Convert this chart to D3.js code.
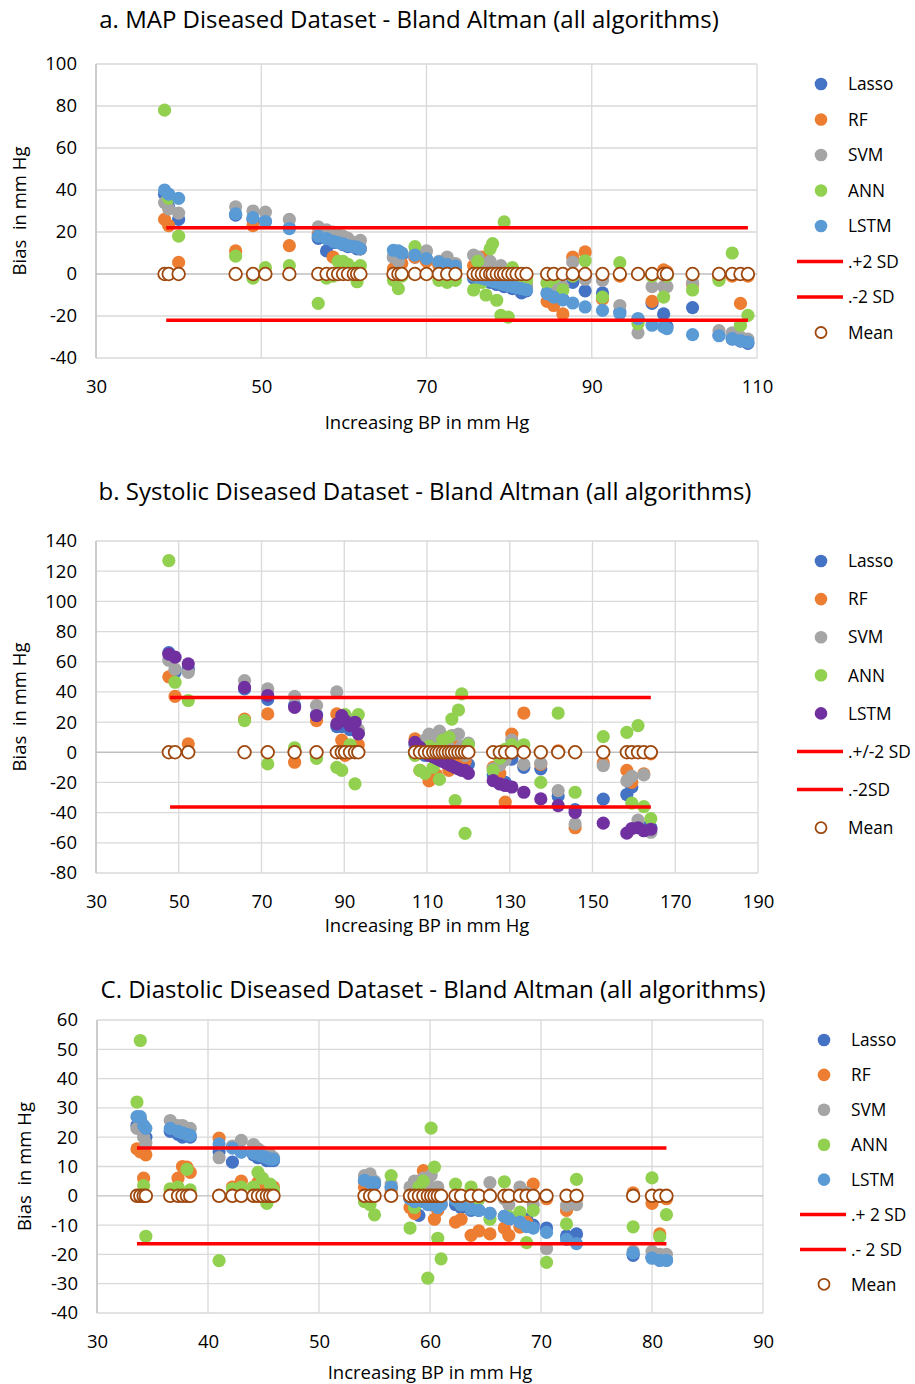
<!DOCTYPE html>
<html>
<head>
<meta charset="utf-8">
<script src="https://cdn.jsdelivr.net/npm/d3@7"></script>
<style>
  body { margin: 0; background: #fff; }
  text { font-family: "Open Sans", sans-serif; fill: #000; white-space: pre; }
</style>
</head>
<body>
<div id="chart"></div>
<script>
'use strict';

// ---- a. MAP ----
var xA = [38.3, 38.8, 40.0, 46.9, 49.0, 50.5, 53.4, 56.9, 57.9, 58.7, 59.3, 59.9, 60.5, 61.2, 61.6, 62.0,
  66.0, 66.6, 67.0, 68.6, 70.0, 71.5, 72.5, 73.5,
  75.7, 76.2, 76.7, 77.2, 77.7, 78.0, 78.5, 79.0, 79.4, 79.9, 80.4, 80.9, 81.5, 82.1,
  84.6, 85.4, 86.5, 87.7, 89.2, 91.3, 93.4, 95.6, 97.3, 98.7, 99.1, 102.2, 105.4, 107.0, 108.0, 108.9];
var lassoA = [38, 32, 26, 28, 26, 25, 22, 17, 11, 15, 15, 14, 13, 13, 12, 12,
  8, 10, 9, 8, 7, 5, 4, 3,
  -2, -1, -3, -2, -4, -3, -5, -4, -6, -5, -7, -6, -9, -8,
  -9, -11, -12, -4, -8, -9, -18, -22, -14, -19, -25, -16, -29, -31, -32, -33];
var rfA = [26, 23, 5.5, 11, 23, 0, 13.5, 19, 20, 8, 18, 16, 15, 14, 13, 12,
  2.5, 2, 5, 8, 6, 4, 3, 2,
  4, 6, 8, 8, 5, 3, -2, 1, -1, -4, -3, -5, -2, -6,
  -13, -15, -19, 8, 10.5, -12, -1, -22, -13, 2, 1, -5, -2, -1, -14, -1];
var svmA = [34, 31, 29, 32, 30, 29.5, 26, 22.4, 21, 20, 19, 18, 17, 15, 14, 16,
  8, 6, 10, 10, 11, 6, 8, 5,
  9, 8, 5, 3, 6, 2, 0, 4, 1, -2, 2, -4, -3, -5,
  -4, -6, -6, 5.7, -2.5, -3, -15, -28, -6, -6, -6, -4, -27, -28, -30, -31];
var annA = [78, 36, 18, 8.5, -2, 3, 4, -14, -2, -1, 6, 6, 4.6, 2.6, -3.7, 4,
  -3, -7, -1, 13, 0, -3, -4, -3,
  -7.6, 6, -4, -10, 12, 14.5, -12.5, -19.7, 24.8, -20.5, 3, -6, 0, -3,
  -4.5, -2, -7.6, -1, 6.3, -11, 5.4, -23.6, -1, -11, -1, -7.6, -3, 10, -24.4, -19.7];
var lstmA = [40, 38, 36, 28.7, 26.8, 25, 21.6, 18, 16.8, 15.6, 15, 14.3, 13.5, 13, 12.8, 12,
  11.3, 11, 10, 9, 7.3, 5.7, 4.5, 3.8,
  -1, -1.5, -2, -2.5, -3, -3.5, -4, -4.5, -5, -5.5, -6, -6.5, -7, -7.5,
  -9.4, -11, -12.3, -13.8, -15.7, -17.3, -18.9, -21.2, -24.4, -25.2, -26, -28.9, -29.4, -30.8, -31.7, -32.4];
var sdA = [22, -22];
var sdRangeA = [38.5, 108.9];
var legendA = ['Lasso', 'RF', 'SVM', 'ANN', 'LSTM', '.+2 SD', '.-2 SD', 'Mean'];

// ---- b. Systolic ----
var xB = [47.6, 49.1, 52.3, 65.9, 71.5, 78.0, 83.3, 88.2, 89.4, 90.2, 91.4, 92.6, 93.4,
  107.1, 108.3,
  109.5, 110.5, 111.5, 112.3, 113.0, 113.8, 114.5, 115.3, 116.0, 116.8, 117.6, 118.4, 119.2, 120.0,
  126.0, 127.6, 128.9, 130.5, 133.4, 137.5, 141.7, 145.8, 152.6, 158.3, 159.5, 161.0, 162.4, 164.1];
var lassoB = [66, 53, 55, 42, 35, 31, 25, 17, 17, 20, 15, 18, 13,
  5, 2,
  -2, 0, -3, -2, -4, -3, -5, -6, -4, -7, -6, -8, -9, -8,
  -15, -18, -20, -4.5, -10, -11, -29, -38, -31, -28, -23, -48, -50, -50];
var rfB = [50, 37, 5.6, 22, 25.4, -6.6, 21, 25.4, 8, -2, 3, 0, 5,
  8.9, -12,
  5, -19, 2, -15, 8, -5, 4, -12, 6, -3, -8, 3, -6, 1,
  -10, -14, -33, 12, 26, -8, 1, -50, -7, -12, -20, 0, -14.3, -1];
var svmB = [61, 55, 53, 47.5, 42, 37, 31, 40, 22, 24, 19, 22, 15,
  6, 3,
  8, 12, 5, 10, 14, 6, 9, 3, 11, 0, 12, 4, -2, 6,
  -11, -8.5, -5, 8, -8, -7.3, -25.4, -47.5, -8.9, -19, -16, -45, -15, -53];
var annB = [127, 46.4, 34.3, 21, -7.7, 3, -4, -10, -12, 25, 5, -20.9, 25,
  -2, -12,
  -14, 4, -10, 2, -18, 8, -6, 10, 22, -32, 28, 38.7, -53.7, 5,
  -12, -4, 2, 5, 5, -20, 26, -26.5, 10.4, 13.2, -33.7, 17.7, -36, -44];
var lstmB = [65, 63, 58.6, 43, 37.6, 29.8, 24.3, 18.8, 24.3, 21, 17.7, 19.9, 12.2,
  6.6, 3.3,
  0, -2, -3, -4, -5, -6, -7, -8, -9, -10, -11, -12, -12, -14,
  -18.8, -21, -22, -23, -26.5, -30.9, -35.3, -39.8, -47, -53.6, -50.5, -50, -52, -51];
var sdB = [36.3, -36.3];
var sdRangeB = [47.9, 164.1];
var legendB = ['Lasso', 'RF', 'SVM', 'ANN', 'LSTM', '.+/-2 SD', '.-2SD', 'Mean'];

// ---- c. Diastolic ----
var xC = [33.6, 33.9, 34.2, 34.4, 36.6, 37.3, 37.7, 38.1, 38.4, 41.0, 42.2, 43.0,
  44.1, 44.5, 44.9, 45.3, 45.6, 45.9, 54.1, 54.6, 55.0, 56.5,
  58.2, 58.6, 59.0, 59.4, 59.8, 60.1, 60.4, 60.7, 61.0,
  62.3, 62.8, 63.7, 64.4, 65.4, 66.7, 67.1, 68.1, 68.7, 69.3, 70.5, 72.3, 73.2,
  78.3, 80.0, 80.7, 81.3];
var lassoC = [24, 26, 22, 20, 22, 21, 20, 21, 20, 15, 11.5, 15,
  14, 13, 13, 12, 12, 12, 5, 4, 4, 3,
  -1, -3, -6.7, -2, -1, -3, -2, -4, -3,
  -3, -4, -5, -5, -6, -7, -8, -7, -8, -10, -11, -13.7, -13,
  -20.3, -21, -22, -22];
var rfC = [16, 15, 6, 14, 2, 6, 10, 9.8, 8, 19.7, 3, 5,
  3, 4.6, 2, 4, 1, 3, 3, 1, 0, 2,
  -4, -6, 5, 8.6, 2, -2, -8, -5, 0,
  -9, -8, -13.5, -12, -13, -11, -13.5, -10.7, -9, 4, -1, -5, -1,
  1, -2.6, -13, -1];
var svmC = [23, 25, 20, 18, 25.7, 24, 24, 23, 23, 13, 17, 18.9,
  17.5, 16, 15, 14, 14, 13, 6.9, 7.5, 5, 4,
  3, 5, 2, 6, 4, 7, 1, 3, -2,
  0, -1, -2, -1, 4.5, -1, -3, 3, 1, -3, -18, -3.3, -3,
  -19, -19, -20, -20];
var annC = [32, 53, 3.5, -13.8, 2.4, 3, 1, 9, 2, -22.1, 2.4, 3,
  3, 8, 6, -2.6, 4, 2, -2, -3, -6.5, 6.9,
  -11, -4, 3, 5, -28.1, 23.1, 9.8, -14.5, -21.5,
  4, -3, 3, -1, -8, 4.8, -7, -5.6, -16, -5, -22.7, -9.6, 5.6,
  -10.6, 6.1, -14, -6.4];
var lstmC = [27, 27, 24, 23, 23, 22, 21.5, 21, 20.6, 17.7, 16.3, 14.9,
  14.5, 14, 13.5, 13, 12.5, 12.5, 5.3, 4.5, 4.5, 3,
  -1, -2, -1, -2, -3, -2, -3, -4, -3,
  -1.5, -3, -4.5, -5, -6, -7, -7.8, -9, -10.5, -11, -12.5, -14.9, -16.3,
  -19.5, -21.3, -22, -22];
var sdC = [16.3, -16.4];
var sdRangeC = [33.6, 81.3];
var legendC = ['Lasso', 'RF', 'SVM', 'ANN', 'LSTM', '.+ 2 SD', '.- 2 SD', 'Mean'];

var colorsAC = ['#4472C4', '#ED7D31', '#A5A5A5', '#92D050', '#5B9BD5'];
var colorsB = ['#4472C4', '#ED7D31', '#A5A5A5', '#92D050', '#7030A0'];

var svg = d3.select('#chart').append('svg')
  .attr('width', 915).attr('height', 1384)
  .style('background', '#fff');

function drawPanel(p) {
  var g = svg.append('g');
  var x = d3.scaleLinear().domain(p.xDomain).range([p.left, p.right]);
  var y = d3.scaleLinear().domain(p.yDomain).range([p.bottom, p.top]);
  var xTicks = d3.range(p.xDomain[0], p.xDomain[1] + 0.1, p.xStep);
  var yTicks = d3.range(p.yDomain[0], p.yDomain[1] + 0.1, p.yStep);

  // gridlines
  g.selectAll('.vg').data(xTicks).enter().append('line')
    .attr('x1', function(d){ return x(d); }).attr('x2', function(d){ return x(d); })
    .attr('y1', p.top).attr('y2', p.bottom)
    .attr('stroke', '#D9D9D9').attr('stroke-width', 1.3);
  g.selectAll('.hg').data(yTicks).enter().append('line')
    .attr('x1', p.left).attr('x2', p.right)
    .attr('y1', function(d){ return y(d); }).attr('y2', function(d){ return y(d); })
    .attr('stroke', function(d){ return d === 0 ? '#BFBFBF' : '#D9D9D9'; })
    .attr('stroke-width', 1.3);
  g.append('line').attr('x1', p.left).attr('x2', p.left).attr('y1', p.top).attr('y2', p.bottom)
    .attr('stroke', '#BFBFBF').attr('stroke-width', 1.3);

  // axes labels (plain hyphen for negatives, as in the original)
  var fmt = function(d){ return String(d); };
  var ya = g.append('g').attr('transform', 'translate(' + p.left + ',0)')
    .call(d3.axisLeft(y).tickValues(yTicks).tickFormat(fmt).tickSize(0).tickPadding(19));
  var xa = g.append('g').attr('transform', 'translate(0,' + p.bottom + ')')
    .call(d3.axisBottom(x).tickValues(xTicks).tickFormat(fmt).tickSize(0).tickPadding(22));
  [ya, xa].forEach(function(a){
    a.select('.domain').remove();
    a.selectAll('text').style('font-family', '"Open Sans", sans-serif')
      .style('font-size', '18.5px').attr('fill', '#000');
  });

  // scatter series
  p.series.forEach(function(vals, si){
    g.append('g').selectAll('circle').data(vals).enter().append('circle')
      .attr('cx', function(d, i){ return x(p.xs[i]); })
      .attr('cy', function(d){ return y(d); })
      .attr('r', 6.6)
      .attr('fill', p.colors[si]);
  });

  // +/- 2 SD lines
  p.sd.forEach(function(v){
    g.append('line')
      .attr('x1', x(p.sdRange[0])).attr('x2', x(p.sdRange[1]))
      .attr('y1', y(v)).attr('y2', y(v))
      .attr('stroke', '#FF0000').attr('stroke-width', 3.5);
  });

  // mean markers (bias axis zero)
  g.append('g').selectAll('circle').data(p.xs).enter().append('circle')
    .attr('cx', function(d){ return x(d); })
    .attr('cy', y(0))
    .attr('r', 6.3)
    .attr('fill', '#fff').attr('stroke', '#9E480E').attr('stroke-width', 1.8);

  // titles
  g.append('text').attr('x', p.titleX).attr('y', p.titleY).attr('text-anchor', 'middle')
    .style('font-size', '24px').text(p.title);
  g.append('text').attr('x', p.xTitleX).attr('y', p.xTitleY).attr('text-anchor', 'middle')
    .style('font-size', '18.5px').text('Increasing BP in mm Hg');
  g.append('text')
    .attr('transform', 'translate(' + p.yTitleX + ',' + ((p.top + p.bottom) / 2) + ') rotate(-90)')
    .attr('text-anchor', 'middle')
    .style('font-size', '18.5px').text('Bias  in mm Hg');

  // legend
  var lg = g.append('g');
  p.legend.forEach(function(lbl, i){
    var ly = p.top + 20 + i * p.legStep;
    if (i < 5) {
      lg.append('circle').attr('cx', p.legX).attr('cy', ly).attr('r', 6.3).attr('fill', p.colors[i]);
    } else if (i < 7) {
      lg.append('line').attr('x1', p.legX - 24).attr('x2', p.legX + 22)
        .attr('y1', ly).attr('y2', ly).attr('stroke', '#FF0000').attr('stroke-width', 3.5);
    } else {
      lg.append('circle').attr('cx', p.legX).attr('cy', ly).attr('r', 5.5)
        .attr('fill', '#fff').attr('stroke', '#9E480E').attr('stroke-width', 1.8);
    }
    lg.append('text').attr('x', p.legX + 27).attr('y', ly).attr('dy', '0.36em')
      .style('font-size', '17.3px').text(lbl);
  });
}

drawPanel({
  xs: xA, series: [lassoA, rfA, svmA, annA, lstmA], colors: colorsAC,
  sd: sdA, sdRange: sdRangeA, legend: legendA,
  xDomain: [30, 110], yDomain: [-40, 100], xStep: 20, yStep: 20,
  left: 96, right: 757, top: 64, bottom: 358,
  title: 'a. MAP Diseased Dataset - Bland Altman (all algorithms)', titleX: 409, titleY: 28,
  xTitleX: 427, xTitleY: 429, yTitleX: 26,
  legX: 821, legStep: 35.5
});

drawPanel({
  xs: xB, series: [lassoB, rfB, svmB, annB, lstmB], colors: colorsB,
  sd: sdB, sdRange: sdRangeB, legend: legendB,
  xDomain: [30, 190], yDomain: [-80, 140], xStep: 20, yStep: 20,
  left: 96, right: 758, top: 541, bottom: 873,
  title: 'b. Systolic Diseased Dataset - Bland Altman (all algorithms)', titleX: 425, titleY: 500,
  xTitleX: 427, xTitleY: 932, yTitleX: 26,
  legX: 821, legStep: 38.1
});

drawPanel({
  xs: xC, series: [lassoC, rfC, svmC, annC, lstmC], colors: colorsAC,
  sd: sdC, sdRange: sdRangeC, legend: legendC,
  xDomain: [30, 90], yDomain: [-40, 60], xStep: 10, yStep: 10,
  left: 97, right: 763, top: 1020, bottom: 1313,
  title: 'C. Diastolic Diseased Dataset - Bland Altman (all algorithms)', titleX: 433, titleY: 998,
  xTitleX: 430, xTitleY: 1379, yTitleX: 31,
  legX: 824, legStep: 34.9
});
</script>
</body>
</html>
